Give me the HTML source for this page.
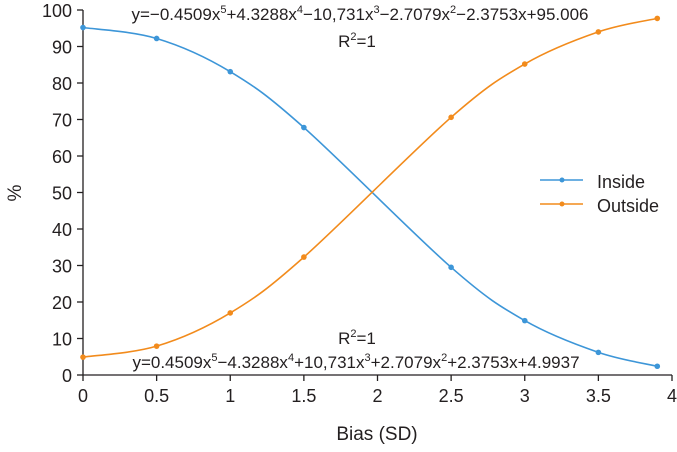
<!DOCTYPE html>
<html><head><meta charset="utf-8"><style>
body{margin:0;background:#fff;}
svg text{font-family:"Liberation Sans",Arial,sans-serif;fill:#231f20;}
</style></head><body>
<svg id="chart" width="677" height="447" viewBox="0 0 677 447" xmlns="http://www.w3.org/2000/svg">
<g id="axes"></g><g id="series"></g>
<text x="14" y="200" font-size="19" text-anchor="middle" transform="rotate(-90 14 193)">%</text>
<text x="377" y="440" font-size="19" text-anchor="middle">Bias (SD)</text>
<text x="360" y="20" font-size="17" text-anchor="middle">y=−0.4509x<tspan dy="-7" font-size="11">5</tspan><tspan dy="7">+4.3288x</tspan><tspan dy="-7" font-size="11">4</tspan><tspan dy="7">−10,731x</tspan><tspan dy="-7" font-size="11">3</tspan><tspan dy="7">−2.7079x</tspan><tspan dy="-7" font-size="11">2</tspan><tspan dy="7">−2.3753x+95.006</tspan></text>
<text x="357" y="47" font-size="17" text-anchor="middle">R<tspan dy="-7" font-size="11">2</tspan><tspan dy="7">=1</tspan></text>
<text x="357" y="344" font-size="17" text-anchor="middle">R<tspan dy="-7" font-size="11">2</tspan><tspan dy="7">=1</tspan></text>
<text x="356" y="368" font-size="17" text-anchor="middle">y=0.4509x<tspan dy="-7" font-size="11">5</tspan><tspan dy="7">−4.3288x</tspan><tspan dy="-7" font-size="11">4</tspan><tspan dy="7">+10,731x</tspan><tspan dy="-7" font-size="11">3</tspan><tspan dy="7">+2.7079x</tspan><tspan dy="-7" font-size="11">2</tspan><tspan dy="7">+2.3753x+4.9937</tspan></text>
<g>
<line x1="540" y1="180" x2="583" y2="180" stroke="#3d96d8" stroke-width="1.5"/><circle cx="562" cy="180" r="2.5" fill="#3d96d8"/>
<text x="597" y="188" font-size="18">Inside</text>
<line x1="540" y1="204" x2="583" y2="204" stroke="#f28b1c" stroke-width="1.5"/><circle cx="562" cy="204" r="2.5" fill="#f28b1c"/>
<text x="597" y="212" font-size="18">Outside</text>
</g>
</svg>
<script>
const xValues=[0,0.5,1,1.5,2.5,3,3.5,3.9];
const insideValues=[95.2,92.2,83.1,67.8,29.5,14.9,6.2,2.4];
const outsideValues=[4.9,7.9,17.0,32.3,70.6,85.2,94.0,97.7];
const xTicks=[0,0.5,1,1.5,2,2.5,3,3.5,4];
const yTicks=[0,10,20,30,40,50,60,70,80,90,100];
const NS="http://www.w3.org/2000/svg";
const X=v=>83+v*(672-83)/4, Y=v=>375-v*(375-10)/100;
const axes=document.getElementById('axes'), series=document.getElementById('series');
function mk(t,a,p){const e=document.createElementNS(NS,t);for(const k in a)e.setAttribute(k,a[k]);p.appendChild(e);return e;}
let l=mk('line',{x1:X(0),y1:Y(0),x2:X(4),y2:Y(0),stroke:'#231f20','stroke-width':1.3},axes);


l=mk('line',{x1:X(0),y1:Y(0),x2:X(0),y2:Y(100),stroke:'#231f20','stroke-width':1.3},axes);


xTicks.forEach(t=>{mk('line',{x1:X(t),y1:Y(0),x2:X(t),y2:Y(0)+6,stroke:'#231f20','stroke-width':1.3},axes);
const tx=mk('text',{x:X(t),y:402,'font-size':18,'text-anchor':'middle'},axes);tx.textContent=t;

});
yTicks.forEach(t=>{mk('line',{x1:X(0)-6,y1:Y(t),x2:X(0),y2:Y(t),stroke:'#231f20','stroke-width':1.3},axes);
const tx=mk('text',{x:X(0)-11,y:Y(t)+7,'font-size':18,'text-anchor':'end'},axes);tx.textContent=t;

});
function path(vals){const p=xValues.map((x,i)=>[X(x),Y(vals[i])]);let d='M'+p[0];
for(let i=0;i<p.length-1;i++){const p0=p[i-1]||p[i],p1=p[i],p2=p[i+1],p3=p[i+2]||p2;
const c1=[p1[0]+(p2[0]-p0[0])/6,p1[1]+(p2[1]-p0[1])/6],c2=[p2[0]-(p3[0]-p1[0])/6,p2[1]-(p3[1]-p1[1])/6];
d+=' C'+c1+' '+c2+' '+p2;}return d;}
[['inside',insideValues,'#3d96d8'],['outside',outsideValues,'#f28b1c']].forEach(([n,v,c])=>{
const g=mk('g',{},series);


mk('path',{d:path(v),fill:'none',stroke:c,'stroke-width':1.6},g);
v.forEach((y,i)=>{const pt=mk('circle',{cx:X(xValues[i]),cy:Y(y),r:2.8,fill:c},g);

});});
</script>
</body></html>
